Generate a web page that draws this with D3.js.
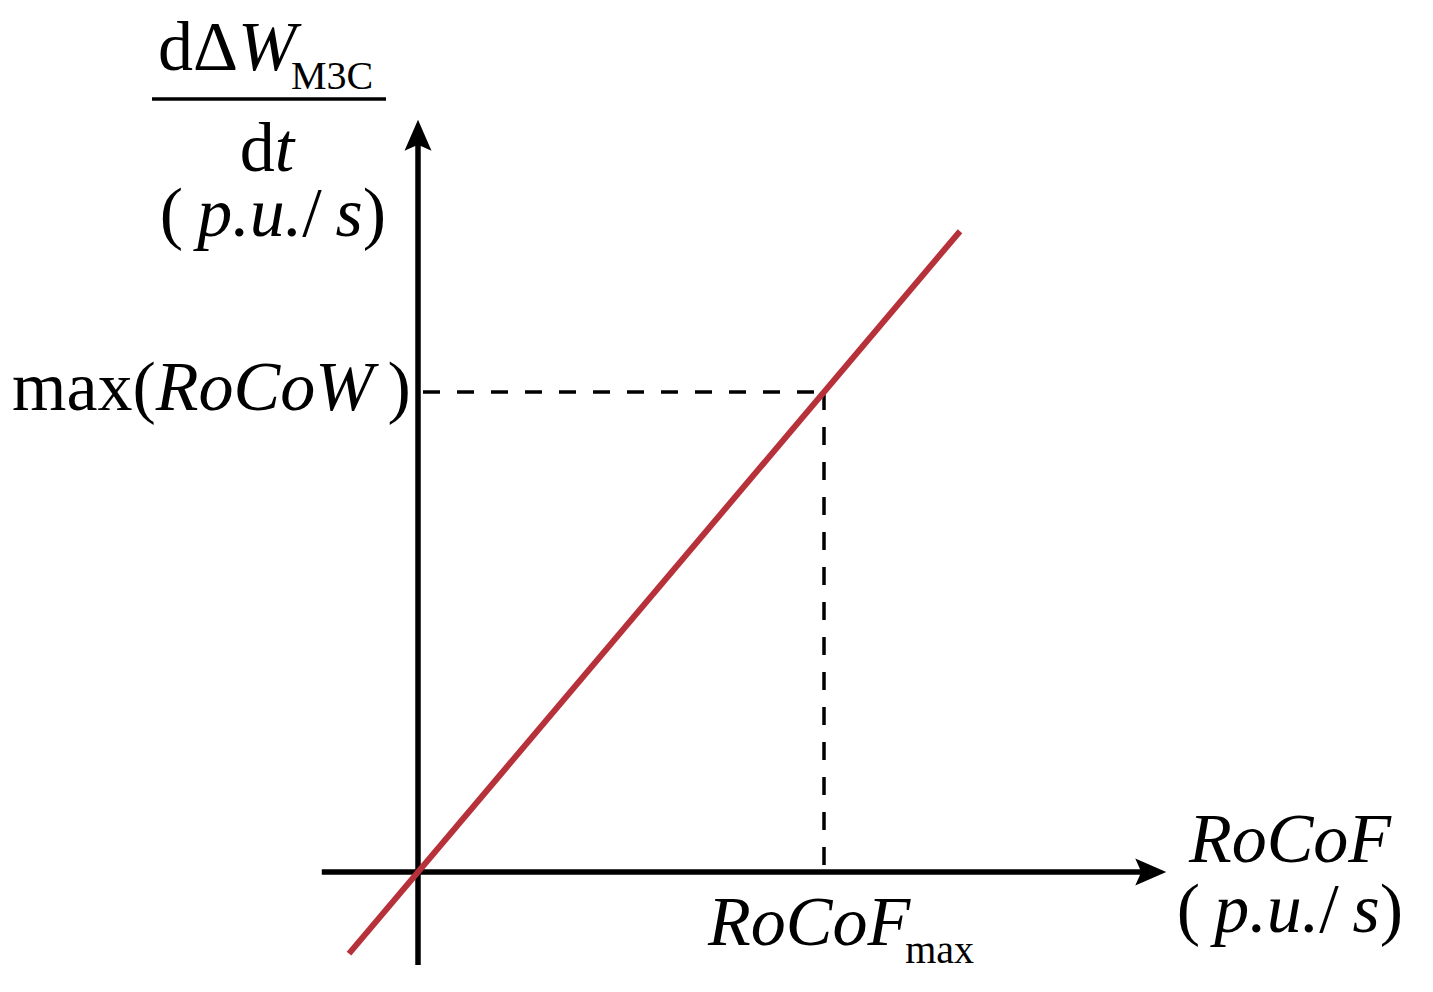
<!DOCTYPE html>
<html>
<head>
<meta charset="utf-8">
<script src="https://cdn.jsdelivr.net/npm/d3@7"></script>
<style>
  html, body { margin: 0; padding: 0; background: #fff; }
  svg { display: block; }
  text { font-family: "Liberation Serif", "Times New Roman", serif; fill: #000; }
</style>
</head>
<body>
<svg id="chart" width="1433" height="992"></svg>
<script>
// ---- data (normalised units: RoCoF_max = 1, max(RoCoW) = 1) ----
const xDomain = [-0.237, 1.843];          // extent of the x axis line
const yDomain = [-0.194, 1.567];          // extent of the y axis line
const lineX = [-0.17, 1.335];             // red characteristic line
const lineY = [-0.17, 1.335];
const markX = [1];                        // RoCoF_max
const markY = [1];                        // max(RoCoW)
const xTickLabel = ["RoCoF", "max"];
const yTickLabel = ["max(", "RoCoW", ")"];

const svg = d3.select("#chart");
const x = d3.scaleLinear().domain([0, 1]).range([418, 824]);
const y = d3.scaleLinear().domain([0, 1]).range([872, 392]);

const red = "#b7313a";

// dashed guides
svg.append("line")
  .attr("x1", x(0)).attr("x2", x(markX[0]))
  .attr("y1", y(markY[0])).attr("y2", y(markY[0]))
  .attr("stroke", "#000").attr("stroke-width", 3.5)
  .attr("stroke-dasharray", "17,17").attr("stroke-dashoffset", -5);
svg.append("line")
  .attr("x1", x(markX[0])).attr("x2", x(markX[0]))
  .attr("y1", y(markY[0])).attr("y2", y(0))
  .attr("stroke", "#000").attr("stroke-width", 3.5)
  .attr("stroke-dasharray", "18,17");

// axes
svg.append("line")
  .attr("x1", x(xDomain[0])).attr("x2", x(xDomain[1]) - 20)
  .attr("y1", y(0)).attr("y2", y(0))
  .attr("stroke", "#000").attr("stroke-width", 5.5);
svg.append("line")
  .attr("x1", x(0)).attr("x2", x(0))
  .attr("y1", y(yDomain[0])).attr("y2", y(yDomain[1]) + 20)
  .attr("stroke", "#000").attr("stroke-width", 5.5);

// arrow heads
const xt = x(xDomain[1]), yt = y(0);
svg.append("path")
  .attr("d", `M${xt},${yt} L${xt - 31},${yt - 13.5} L${xt - 25},${yt} L${xt - 31},${yt + 13.5} Z`)
  .attr("fill", "#000");
const ax = x(0), ay = y(yDomain[1]);
svg.append("path")
  .attr("d", `M${ax},${ay} L${ax - 13.5},${ay + 31} L${ax},${ay + 25} L${ax + 13.5},${ay + 31} Z`)
  .attr("fill", "#000");

// red line
svg.append("line")
  .attr("x1", x(lineX[0])).attr("y1", y(lineY[0]))
  .attr("x2", x(lineX[1])).attr("y2", y(lineY[1]))
  .attr("stroke", red).attr("stroke-width", 6);

// ---- labels ----
const FS = 70, SUB = 40;

// y-axis label (fraction)
const num = svg.append("text").attr("x", 158).attr("y", 70).attr("font-size", FS);
num.append("tspan").text("d\u0394");
num.append("tspan").attr("font-style", "italic").text("W");
svg.append("text").attr("x", 291).attr("y", 89).attr("font-size", SUB).text("M3C");
svg.append("line").attr("x1", 152).attr("x2", 386).attr("y1", 99).attr("y2", 99)
  .attr("stroke", "#000").attr("stroke-width", 3.5);
const den = svg.append("text").attr("x", 267).attr("y", 171).attr("font-size", FS).attr("text-anchor", "middle");
den.append("tspan").text("d");
den.append("tspan").attr("font-style", "italic").text("t");
function unitLabel(cx, by) {
  const t = svg.append("text").attr("x", cx).attr("y", by).attr("font-size", FS).attr("text-anchor", "middle");
  t.append("tspan").text("(\u2009");
  t.append("tspan").attr("font-style", "italic").text("p.u.");
  t.append("tspan").text("/\u2009");
  t.append("tspan").attr("font-style", "italic").text("s");
  t.append("tspan").text(")");
}
unitLabel(273, 236);

// max(RoCoW)
const yl = svg.append("text").attr("x", 12).attr("y", y(markY[0]) + 18).attr("font-size", FS);
yl.append("tspan").text(yTickLabel[0]);
yl.append("tspan").attr("font-style", "italic").text(yTickLabel[1]);
yl.append("tspan").text("\u2009" + yTickLabel[2]);

// RoCoF_max
const xl = svg.append("text").attr("x", 708).attr("y", 945).attr("font-size", FS);
xl.append("tspan").attr("font-style", "italic").text(xTickLabel[0]);
xl.append("tspan").attr("font-size", SUB).attr("dy", 18).attr("dx", -5).text(xTickLabel[1]);

// x-axis label
svg.append("text").attr("x", 1290).attr("y", 862).attr("font-size", FS)
  .attr("text-anchor", "middle").attr("font-style", "italic").text("RoCoF");
unitLabel(1290, 932);
</script>
</body>
</html>
